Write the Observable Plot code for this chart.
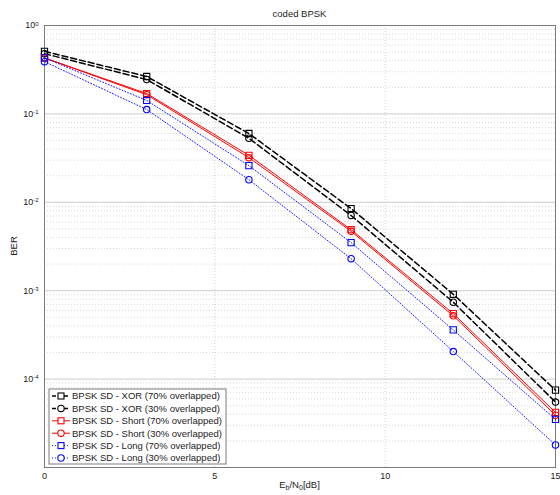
<!DOCTYPE html>
<html><head><meta charset="utf-8">
<script src="https://cdn.jsdelivr.net/npm/d3@7"></script>
<script src="https://cdn.jsdelivr.net/npm/@observablehq/plot@0.6"></script>
<style>
body{margin:0;background:#fff;}
#chart svg{display:block;}
</style>
</head><body><div id="chart"></div>
<script>
// ---- data ----
const ebn0 = [0, 3, 6, 9, 12, 15];
const xor70   = [0.51, 0.265, 0.060, 0.0085, 0.00091, 7.5e-5];
const xor30   = [0.48, 0.245, 0.053, 0.0071, 0.00074, 5.5e-5];
const short70 = [0.43, 0.170, 0.034, 0.0049, 0.00055, 4.2e-5];
const short30 = [0.43, 0.165, 0.032, 0.0047, 0.00052, 3.9e-5];
const long70  = [0.43, 0.142, 0.026, 0.0035, 0.00036, 3.5e-5];
const long30  = [0.39, 0.112, 0.018, 0.0023, 0.000205, 1.8e-5];

const seriesNames = [
  "BPSK SD - XOR (70% overlapped)",
  "BPSK SD - XOR (30% overlapped)",
  "BPSK SD - Short (70% overlapped)",
  "BPSK SD - Short (30% overlapped)",
  "BPSK SD - Long (70% overlapped)",
  "BPSK SD - Long (30% overlapped)"
];
const seriesValues = [xor70, xor30, short70, short30, long70, long30];
const seriesMarkers = ["square", "circle", "square", "circle", "square", "circle"];
const seriesColors = ["#000000", "#000000", "#ff0000", "#ff0000", "#0000ff", "#0000ff"];
const seriesDash = ["6,3", "6,3", "none", "none", "1,2", "1,2"];
const seriesWidth = [1.5, 1.5, 1, 1, 0.9, 0.9];

const xTicks = [0, 5, 10, 15];
const yMajor = [1, 1e-1, 1e-2, 1e-3, 1e-4, 1e-5];
const yLabelled = [1, 1e-1, 1e-2, 1e-3, 1e-4];
const minorMult = [2, 3, 4, 5, 6, 7, 8, 9];

// ---- build tables ----
const rows = [];
seriesNames.forEach((name, i) => {
  ebn0.forEach((x, j) => rows.push({x, y: seriesValues[i][j], s: name, i}));
});
const yMinor = [];
yMajor.slice(1).forEach(d => minorMult.forEach(m => yMinor.push(d * m)));

const W = 560, H = 495;
const mL = 44, mR = 5, mT = 25, mB = 28;

const marks = [
  Plot.ruleY(yMinor, {stroke: "#cfcfcf", strokeWidth: 0.8, strokeDasharray: "1,2"}),
  Plot.ruleY(yMajor, {stroke: "#cccccc", strokeWidth: 1}),
  Plot.ruleX(xTicks, {stroke: "#c4c4c4", strokeWidth: 0.8, strokeDasharray: "1,2"}),
  Plot.frame({stroke: "#7a7a7a", strokeWidth: 1})
];
seriesNames.forEach((name, i) => {
  const data = rows.filter(r => r.i === i);
  marks.push(Plot.line(data, {
    x: "x", y: "y", stroke: seriesColors[i], strokeWidth: seriesWidth[i],
    strokeDasharray: seriesDash[i]
  }));
  marks.push(Plot.dot(data, {
    x: "x", y: "y", stroke: seriesColors[i], fill: "none", strokeWidth: 1.1,
    symbol: seriesMarkers[i], r: seriesMarkers[i] === "square" ? 3.5 : 3.2
  }));
});

const chart = Plot.plot({
  width: W, height: H,
  marginLeft: mL, marginRight: mR, marginTop: mT, marginBottom: mB,
  style: {fontFamily: "'Liberation Sans', Arial, sans-serif", fontSize: "9px", color: "#222", background: "#fff"},
  x: {domain: [0, 15], ticks: xTicks, tickSize: 0, tickPadding: 5, label: null},
  y: {type: "log", domain: [1e-5, 1], ticks: yLabelled, tickSize: 0, tickPadding: 6, label: null,
      tickFormat: d => "10^" + Math.round(Math.log10(d))},
  marks
});

document.getElementById("chart").appendChild(chart);

const svg = d3.select(chart);
// superscript tick labels
svg.selectAll("text").each(function() {
  const t = d3.select(this);
  const m = /^10\^(-?\d+)$/.exec(t.text());
  if (m) {
    t.text("");
    t.append("tspan").text("10");
    t.append("tspan").attr("dy", "-0.45em").attr("font-size", "6px").text(m[1]);
  }
});

const font = "'Liberation Sans', Arial, sans-serif";
// title
svg.append("text").attr("x", (mL + W - mR) / 2).attr("y", 17)
  .attr("text-anchor", "middle").attr("font-family", font).attr("font-size", "9.5px")
  .attr("fill", "#222").text("coded BPSK");
// y label
svg.append("text").attr("transform", `translate(17,${(mT + H - mB) / 2}) rotate(-90)`)
  .attr("text-anchor", "middle").attr("font-family", font).attr("font-size", "9.5px")
  .attr("fill", "#222").text("BER");
// x label with subscripts
const xl = svg.append("text").attr("x", (mL + W - mR) / 2).attr("y", 488)
  .attr("text-anchor", "middle").attr("font-family", font).attr("font-size", "9.5px").attr("fill", "#222");
xl.append("tspan").text("E");
xl.append("tspan").attr("font-size", "7px").attr("dy", "2").text("b");
xl.append("tspan").attr("dy", "-2").text("/N");
xl.append("tspan").attr("font-size", "7px").attr("dy", "2").text("0");
xl.append("tspan").attr("dy", "-2").text("[dB]");

// legend
const lg = svg.append("g").attr("text-anchor", "start");
const lx = 49, ly = 389, lw = 177, lh = 75, step = 12.4, y0 = 396;
lg.append("rect").attr("x", lx).attr("y", ly).attr("width", lw).attr("height", lh)
  .attr("fill", "#fff").attr("stroke", "#7a7a7a").attr("stroke-width", 1);
seriesNames.forEach((name, i) => {
  const yy = y0 + i * step;
  lg.append("line").attr("x1", 52).attr("x2", 70).attr("y1", yy).attr("y2", yy)
    .attr("stroke", seriesColors[i]).attr("stroke-width", seriesWidth[i])
    .attr("stroke-dasharray", seriesDash[i] === "6,3" ? "4,2" : seriesDash[i]);
  if (seriesMarkers[i] === "square") {
    lg.append("rect").attr("x", 58).attr("y", yy - 3).attr("width", 6).attr("height", 6)
      .attr("fill", "#fff").attr("stroke", seriesColors[i]).attr("stroke-width", 1.1);
  } else {
    lg.append("circle").attr("cx", 61).attr("cy", yy).attr("r", 3.2)
      .attr("fill", "#fff").attr("stroke", seriesColors[i]).attr("stroke-width", 1.1);
  }
  lg.append("text").attr("x", 72).attr("y", yy).attr("dy", "0.35em")
    .attr("text-anchor", "start")
    .attr("font-family", font).attr("font-size", "9.5px").attr("fill", "#222").text(name);
});
</script>
</body></html>
